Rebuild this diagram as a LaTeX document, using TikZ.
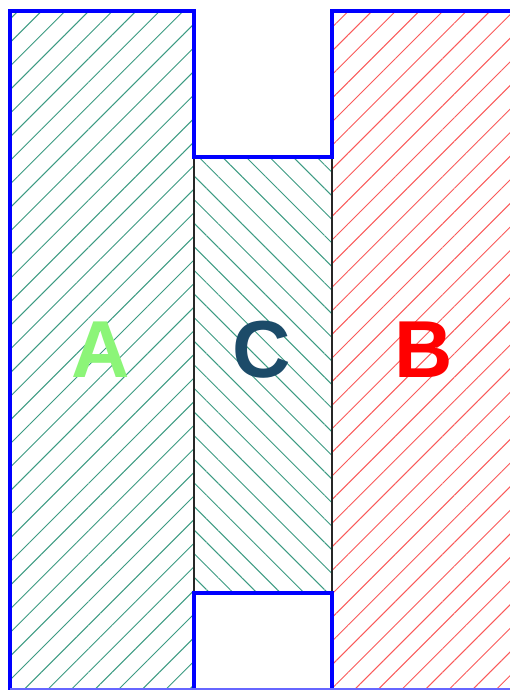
\documentclass[tikz,border=0pt]{standalone}
\usepackage{fontspec}
\setsansfont{Liberation Sans}
\usepackage{tikz}
\usetikzlibrary{patterns.meta, positioning}

\definecolor{hatchteal}{RGB}{60,155,130}
\definecolor{hatchred}{RGB}{250,90,90}
\definecolor{labelgreen}{RGB}{140,245,120}
\definecolor{labelnavy}{RGB}{28,75,105}

\begin{document}
\begin{tikzpicture}[x=0.02cm, y=-0.02cm,
    hatchA/.style={pattern={Lines[angle=45,distance=9.5pt,line width=0.55pt]}, pattern color=hatchteal},
    hatchC/.style={pattern={Lines[angle=-45,distance=9.5pt,line width=0.55pt]}, pattern color=hatchteal},
    hatchB/.style={pattern={Lines[angle=45,distance=9.5pt,line width=0.55pt]}, pattern color=hatchred},
    wall/.style={blue, line width=2.3pt, line join=miter},
    region/.style={black!85, line width=0.8pt},
    letter/.style={font=\sffamily\bfseries\fontsize{46}{46}\selectfont}]
    \useasboundingbox (0,0) rectangle (510,690);
    \fill[white] (0,0) rectangle (510,690);

    % regions
    \draw[region, hatchA] (10,10) rectangle (194,690);
    \draw[region, hatchC] (194,157) rectangle (332,593);
    \draw[region, hatchB] (332,10) rectangle (514,690);

    % boundary
    \draw[wall] (10,690) -- (10,11) -- (194,11) -- (194,157) -- (332,157) -- (332,11) -- (512,11);
    \draw[wall] (194,690) -- (194,593) -- (332,593) -- (332,690);
    \draw[blue!60, line width=0.8pt] (10,689) -- (510,689);

    % labels
    \node[letter, text=labelgreen] (lblA) at (101,350) {A};
    \node[letter, text=labelnavy, right=3.22cm of lblA.center, anchor=center] (lblC) {C};
    \node[letter, text=red, right=3.24cm of lblC.center, anchor=center] (lblB) {B};
\end{tikzpicture}
\end{document}
